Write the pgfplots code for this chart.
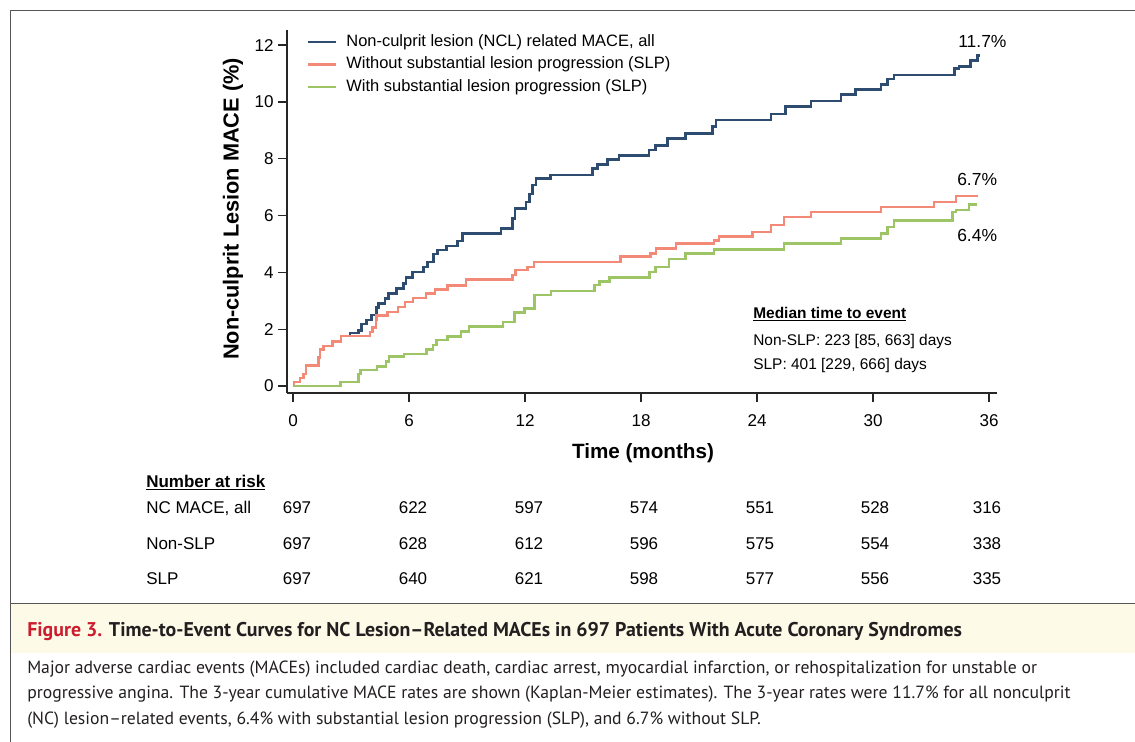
\documentclass[border=0pt]{standalone}
\usepackage{pgfplots}
\pgfplotsset{compat=1.18}
\usepackage{fontspec}
\setmainfont{Liberation Sans}
\newfontfamily\capfont{PT Sans}
\definecolor{cblue}{HTML}{2E4C70}
\definecolor{cred}{HTML}{F38A77}
\definecolor{cgreen}{HTML}{9DC566}
\definecolor{framegray}{HTML}{555555}
\definecolor{beige}{HTML}{FDFAE8}
\definecolor{figred}{HTML}{CC1D2E}
\definecolor{captxt}{HTML}{231F20}

\pgfplotstableread{
t v
0 0
0.05 0.14
0.36 0.29
0.53 0.43
0.67 0.72
1.31 1.0
1.4 1.29
1.57 1.41
2.05 1.56
2.48 1.76
2.95 1.86
3.38 1.96
3.55 2.18
3.81 2.32
4.07 2.5
4.33 2.77
4.41 2.9
4.76 3.08
4.93 3.26
5.36 3.43
5.71 3.61
5.85 3.82
6.17 4.02
6.76 4.19
6.95 4.37
7.26 4.64
7.48 4.78
7.95 4.92
8.5 5.11
8.76 5.36
10.76 5.54
11.36 5.89
11.48 6.24
12.05 6.48
12.22 6.75
12.4 7.07
12.57 7.3
13.33 7.42
15.5 7.65
15.74 7.8
16.26 7.97
16.87 8.12
18.42 8.30
18.76 8.47
19.37 8.71
20.31 8.88
21.69 9.14
21.87 9.37
24.71 9.58
25.47 9.84
26.78 10.03
28.33 10.26
29.1 10.43
30.4 10.61
30.75 10.81
31.09 10.95
34.2 11.17
34.45 11.25
35.05 11.46
35.4 11.63
35.54 11.63
}\allncl

\pgfplotstableread{
t v
0 0
0.05 0.14
0.36 0.29
0.53 0.43
0.67 0.72
1.31 1.0
1.4 1.29
1.57 1.41
2.05 1.56
2.48 1.76
3.98 1.9
4.12 2.06
4.29 2.32
4.33 2.48
4.9 2.61
5.43 2.78
5.8 2.95
6.2 3.1
6.87 3.26
7.35 3.4
7.99 3.53
8.95 3.75
11.35 3.9
11.5 4.08
12.12 4.19
12.47 4.37
16.95 4.55
18.5 4.66
18.77 4.84
19.81 5.01
21.78 5.13
22.04 5.27
23.76 5.42
24.71 5.66
25.4 5.95
26.78 6.13
30.4 6.30
33.16 6.48
34.28 6.69
35.45 6.69
}\nonslp

\pgfplotstableread{
t v
0 0
2.45 0.14
3.4 0.42
3.5 0.56
4.35 0.68
4.8 0.87
4.97 1.03
5.75 1.12
6.9 1.28
7.25 1.44
7.43 1.62
7.99 1.75
8.68 1.91
9.1 2.1
10.85 2.26
11.45 2.58
11.97 2.73
12.48 3.2
13.35 3.35
15.59 3.55
15.84 3.68
16.36 3.82
18.45 4.02
18.76 4.19
19.45 4.47
20.31 4.66
21.78 4.80
25.4 5.01
28.33 5.19
30.4 5.37
30.75 5.6
31.09 5.83
34.11 6.13
34.28 6.2
34.97 6.39
35.37 6.39
}\slp

\begin{document}
\begin{tikzpicture}
\path[use as bounding box] (0pt,0pt) rectangle (851.25pt,-556.5pt);
\begin{scope}[x=0.75pt,y=-0.75pt]
\fill[beige] (11,604) rectangle (1135,653);
\draw[framegray,line width=1pt] (1135,10.5) -- (10.5,10.5) -- (10.5,742);
\draw[framegray,line width=1.2pt] (10.5,603.5) -- (1135,603.5);
% axis titles
\node[rotate=90,anchor=base,inner sep=0pt,font=\bfseries\fontsize{16.3pt}{19pt}\selectfont] at (238.5,209) {Non-culprit Lesion MACE (\%)};
\node[anchor=base,inner sep=0pt,font=\bfseries\fontsize{15.5pt}{18pt}\selectfont] at (643,458) {Time (months)};
% end labels
\begin{scope}[every node/.style={anchor=base west,inner sep=0pt,font=\fontsize{13.1pt}{15pt}\selectfont}]
\node at (958,47.7) {11.7\%};
\node at (957,185.7) {6.7\%};
\node at (957,241.7) {6.4\%};
\end{scope}
% median
\begin{scope}[every node/.style={anchor=base west,inner sep=0pt,font=\fontsize{11.6pt}{14pt}\selectfont}]
\node at (753,318.3) {\underline{\textbf{Median time to event}}};
\node at (753,345) {Non-SLP: 223 [85, 663] days};
\node at (753,369) {SLP: 401 [229, 666] days};
\end{scope}
% risk table
\begin{scope}[every node/.style={anchor=base,inner sep=0pt,font=\fontsize{12.75pt}{15pt}\selectfont}]
\node[anchor=base west] at (146,487) {\underline{\textbf{Number at risk}}};
\node[anchor=base west] at (146,513) {NC MACE, all};
\node[anchor=base west] at (146,549) {Non-SLP};
\node[anchor=base west] at (146,584) {SLP};
\foreach \xx/\a/\b/\c in {297/697/697/697, 413/622/628/640, 529/597/612/621, 644/574/596/598, 760/551/575/577, 875/528/554/556, 987/316/338/335}{
  \node at (\xx,513) {\a};
  \node at (\xx,549) {\b};
  \node at (\xx,584) {\c};
}
\end{scope}
% caption
\node[anchor=base west,inner sep=0pt,text=captxt,font=\capfont\bfseries\fontsize{14.9pt}{17pt}\selectfont] at (27,636) {\textcolor{figred}{Figure 3.} Time-to-Event Curves for NC Lesion–Related MACEs in 697 Patients With Acute Coronary Syndromes};
\begin{scope}[every node/.style={anchor=base west,inner sep=0pt,text=captxt,font=\capfont\fontsize{13.25pt}{15pt}\selectfont}]
\node at (27,673) {Major adverse cardiac events (MACEs) included cardiac death, cardiac arrest, myocardial infarction, or rehospitalization for unstable or};
\node at (27,698.5) {progressive angina. The 3-year cumulative MACE rates are shown (Kaplan-Meier estimates). The 3-year rates were 11.7\% for all nonculprit};
\node at (27,724) {(NC) lesion–related events, 6.4\% with substantial lesion progression (SLP), and 6.7\% without SLP.};
\end{scope}
\end{scope}

\begin{axis}[
  at={(215.25pt,-294.75pt)}, anchor=south west,
  scale only axis, width=532.5pt, height=272.25pt,
  xmin=-0.31, xmax=36.41, ymin=-0.246, ymax=12.53,
  axis x line=bottom, axis y line=left,
  axis line style={-, line width=1pt, black!85},
  xtick={0,6,...,36}, ytick={0,2,...,12},
  tick align=outside, major tick length=6.5pt,
  tick style={line width=1pt, black!85},
  ticklabel style={font=\fontsize{12.8pt}{15pt}\selectfont},
  xticklabel style={yshift=-6pt},
  /pgf/number format/assume math mode=true,
  clip=false,
  legend cell align=left,
  legend style={at={(axis cs:0.72,12.45)}, anchor=north west, draw=none, fill=none,
    font=\fontsize{12.35pt}{14pt}\selectfont, row sep=2.5pt, inner sep=0pt,
    nodes={inner sep=1.5pt, text height=8.8pt, text depth=2.6pt}},
  legend image code/.code={\draw[#1] (0pt,0pt) -- (21pt,0pt); \path (26pt,0pt);},
]
\addplot[const plot, no marks, cblue, line width=1.9pt] table[x=t,y=v] {\allncl};
\addlegendentry{Non-culprit lesion (NCL) related MACE, all}
\addplot[const plot, no marks, cred, line width=1.9pt] table[x=t,y=v] {\nonslp};
\addlegendentry{Without substantial lesion progression (SLP)}
\addplot[const plot, no marks, cgreen, line width=1.9pt] table[x=t,y=v] {\slp};
\addlegendentry{With substantial lesion progression (SLP)}
\end{axis}
\end{tikzpicture}
\end{document}
